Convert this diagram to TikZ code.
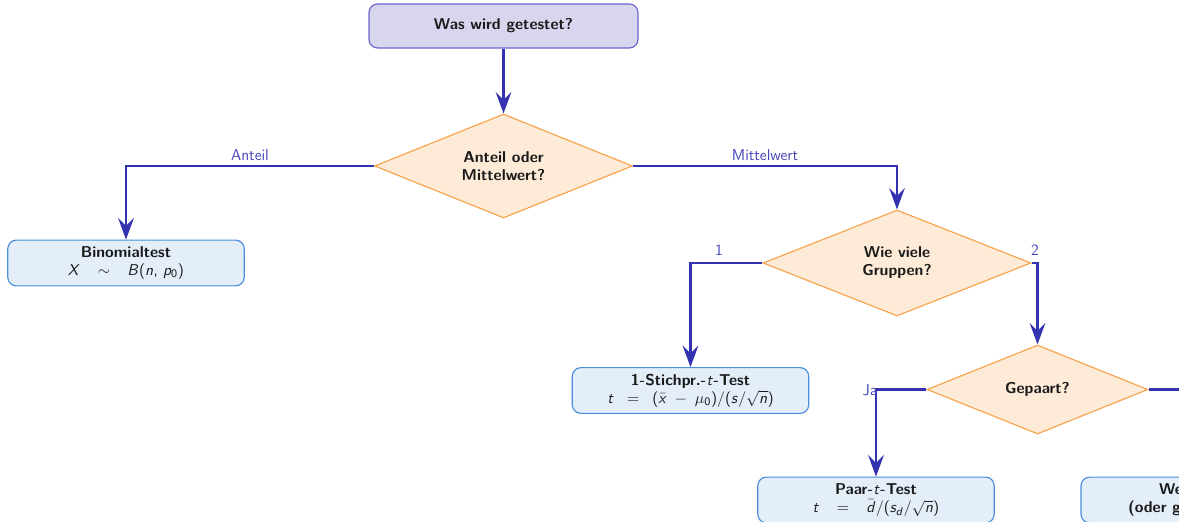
\documentclass[tikz,border=0pt]{standalone}
\usetikzlibrary{arrows.meta,shapes.geometric}
\renewcommand\familydefault{\sfdefault}
\DeclareSymbolFont{sfoperators}{OT1}{cmss}{m}{n}
\DeclareSymbolFont{sfletters}{OT1}{cmss}{m}{sl}
\DeclareMathSymbol{0}{\mathalpha}{sfoperators}{`0}
\DeclareMathSymbol{(}{\mathopen}{sfoperators}{`(}
\DeclareMathSymbol{)}{\mathclose}{sfoperators}{`)}
\DeclareMathSymbol{/}{\mathord}{sfoperators}{`/}
\DeclareMathSymbol{=}{\mathrel}{sfoperators}{`=}
\DeclareMathSymbol{,}{\mathpunct}{sfoperators}{`,}
\DeclareMathSymbol{X}{\mathalpha}{sfletters}{`X}
\DeclareMathSymbol{B}{\mathalpha}{sfletters}{`B}
\DeclareMathSymbol{n}{\mathalpha}{sfletters}{`n}
\DeclareMathSymbol{p}{\mathalpha}{sfletters}{`p}
\DeclareMathSymbol{t}{\mathalpha}{sfletters}{`t}
\DeclareMathSymbol{x}{\mathalpha}{sfletters}{`x}
\DeclareMathSymbol{s}{\mathalpha}{sfletters}{`s}
\DeclareMathSymbol{d}{\mathalpha}{sfletters}{`d}
\definecolor{arrowblue}{HTML}{3333B2}
\definecolor{labelblue}{HTML}{4444BB}
\definecolor{qfill}{HTML}{D8D6EE}
\definecolor{qdraw}{HTML}{6A66CC}
\definecolor{dfill}{HTML}{FDEBD8}
\definecolor{ddraw}{HTML}{F7A34B}
\definecolor{rfill}{HTML}{E3EEF9}
\definecolor{rdraw}{HTML}{4A8FDB}
\definecolor{txt}{HTML}{1A1A1A}
\newcommand\basefont{\fontsize{11}{12.6}\selectfont}
\tikzset{
  qbox/.style={draw=qdraw, fill=qfill, line width=0.8pt, rounded corners=6pt,
    minimum width=188.3pt, minimum height=30.8pt, inner sep=0pt,
    font=\basefont\bfseries, text=txt, align=center},
  decision/.style={shape=diamond, draw=ddraw, fill=dfill, line width=0.8pt,
    inner sep=0pt, font=\basefont\bfseries, text=txt, align=center},
  result/.style={draw=rdraw, fill=rfill, line width=0.8pt, rounded corners=6pt,
    minimum width=165.5pt, minimum height=32pt, inner sep=0pt,
    font=\basefont, text=txt, align=center},
  arr/.style={draw=arrowblue, line width=1.6pt,
    -{Stealth[length=15pt, width=11pt, inset=5.5pt]}},
  elabel/.style={text=labelblue, inner sep=0pt, font=\basefont}
}
\begin{document}
\begin{tikzpicture}[x=0.7pt, y=-0.7pt]
\useasboundingbox (0,0) rectangle (1179,522);
\clip (0,0) rectangle (1179,522);

\node[qbox] (q) at (503.5,26) {Was wird getestet?};

\node[decision, minimum width=180.6pt, minimum height=72.8pt, aspect=2.48]
  (d1) at (503.5,166) {Anteil oder\\Mittelwert?};
\node[decision, minimum width=187.6pt, minimum height=74.2pt, aspect=2.53]
  (d2) at (897,263) {Wie viele\\Gruppen?};
\node[decision, minimum width=154.7pt, minimum height=62.3pt, aspect=2.48]
  (d3) at (1037.5,389.5) {Gepaart?};

\node[result] (binom) at (126,263)
  {\textbf{Binomialtest}\\$X\;\;\;\sim\;\;\;B(n,\,p_0)$};
\node[result] (one) at (690.5,390.5)
  {\textbf{1-Stichpr.-$t$-Test}\\$t\;\;=\;\;(\bar{x}\;-\;\mu_0)/(s/\sqrt{n})$};
\node[result] (paar) at (876,500)
  {\textbf{Paar-$t$-Test}\\$t\;\;\;=\;\;\;\bar{d}/(s_d/\sqrt{n})$};
\node[result, font=\basefont\bfseries, minimum width=175pt] (welch) at (1206,500)
  {Welch-$t$-Test\\(oder gepoolter Test)};

\draw[arr] (q.south) -- (d1.north);
\draw[arr] (d1.west) -| (binom.north);
\draw[arr] (d1.east) -| (d2.north);
\draw[arr] (d2.west) -| (one.north);
\draw[arr] (d2.east) -| (d3.north);
\draw[arr] (d3.west) -| (paar.north);
\draw[arr] (d3.east) -| (welch.north);

\node[elabel] (lanteil) at (250,155) {Anteil};
\node[elabel] (lmittel) at (765,155) {Mittelwert};
\node[elabel] (l1) at (719,250) {1};
\node[elabel] (l2) at (1035,250) {2};
\node[elabel] (lja) at (870,390) {Ja};
\end{tikzpicture}
\end{document}
